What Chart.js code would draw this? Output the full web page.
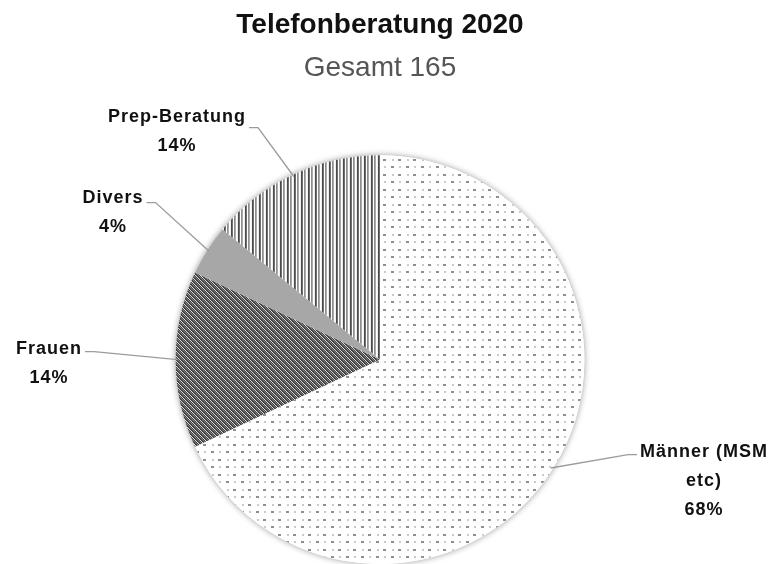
<!DOCTYPE html>
<html lang="de">
<head>
<meta charset="utf-8">
<title>Telefonberatung 2020</title>
<script src="https://cdn.jsdelivr.net/npm/chart.js@4.4.1/dist/chart.umd.min.js"></script>
<style>
  html, body { margin: 0; padding: 0; background: #fff; }
</style>
</head>
<body>
<canvas id="pieChart" width="782" height="564"></canvas>
<script>
// ---- data ----
const groups = [["Männer (MSM", "etc)"], "Frauen", "Divers", "Prep-Beratung"];
const shares = [68, 14, 4, 14];
const totalCalls = 165;

// label placement, relative to the pie centre
const labelSpots = [
  { dx: 324, dy: 92, side: "left", drop: 3 },
  { dx: -331, dy: -11, side: "right", drop: 3 },
  { dx: -267, dy: -162, side: "right", drop: 5 },
  { dx: -203, dy: -243, side: "right", drop: 11 }
];

// -------------------------------
// fill patterns for the slices
// -------------------------------
function makeTile(w, h, paint) {
  const c = document.createElement("canvas");
  c.width = w;
  c.height = h;
  const g = c.getContext("2d");
  paint(g, w, h);
  return g.createPattern(c, "repeat");
}

const dotFill = makeTile(15, 15, (g, w, h) => {
  g.fillStyle = "#fff";
  g.fillRect(0, 0, w, h);
  g.fillStyle = "#8e8e8e";
  g.fillRect(1, 1, 3, 2);
  g.fillRect(8, 9, 3, 2);
  g.fillStyle = "#cacaca";
  g.fillRect(9, 1, 2, 2);
  g.fillRect(2, 9, 2, 2);
});

const hatchFill = makeTile(5, 5, (g, w, h) => {
  g.fillStyle = "#444";
  g.fillRect(0, 0, w, h);
  for (let i = 0; i < 5; i++) {
    g.fillStyle = "#dcdcdc";
    g.fillRect(i, i, 1, 1);
    g.fillStyle = "#808080";
    g.fillRect(i, (i + 2) % 5, 1, 1);
  }
});

const stripeFill = makeTile(7, 1, (g) => {
  const cols = ["#4a4a4a", "#707070", "#ffffff", "#8e8e8e", "#aaaaaa", "#ffffff", "#eeeeee"];
  cols.forEach((c, x) => {
    g.fillStyle = c;
    g.fillRect(x, 0, 1, 1);
  });
});

const sliceFills = [dotFill, hatchFill, "#a7a7a7", stripeFill];

// -------------------------------
// shadow under the pie + callout labels
// -------------------------------
const pieDecor = {
  id: "pieDecor",
  beforeDatasetsDraw(chart) {
    const arc = chart.getDatasetMeta(0).data[0];
    const ctx = chart.ctx;
    ctx.save();
    ctx.shadowColor = "rgba(0,0,0,0.4)";
    ctx.shadowBlur = 6;
    ctx.beginPath();
    ctx.arc(arc.x, arc.y, arc.outerRadius, 0, Math.PI * 2);
    ctx.fillStyle = "#fff";
    ctx.fill();
    ctx.restore();
  },
  afterDatasetsDraw(chart) {
    const ctx = chart.ctx;
    const meta = chart.getDatasetMeta(0);

    meta.data.forEach((arc, i) => {
      const spot = labelSpots[i];
      const lines = [].concat(chart.data.labels[i], shares[i] + "%");
      const mid = (arc.startAngle + arc.endAngle) / 2;
      const ex = arc.x + Math.cos(mid) * (arc.outerRadius - 2);
      const ey = arc.y + Math.sin(mid) * (arc.outerRadius - 2);
      const tx = arc.x + spot.dx;
      const ty = arc.y + spot.dy;

      ctx.save();
      ctx.font = "bold 18px 'Liberation Sans', Arial, sans-serif";
      ctx.letterSpacing = "1px";
      const w = ctx.measureText(lines[0]).width;

      // leader line
      const ly = ty + spot.drop;
      const lx = spot.side === "right" ? tx + w / 2 + 3 : tx - w / 2 - 3;
      const kx = spot.side === "right" ? lx + 9 : lx - 9;
      ctx.strokeStyle = "#9c9c9c";
      ctx.lineWidth = 1.4;
      ctx.beginPath();
      ctx.moveTo(lx, ly);
      ctx.lineTo(kx, ly);
      ctx.lineTo(ex, ey);
      ctx.stroke();

      // label text
      ctx.filter = "blur(0.4px)";
      ctx.fillStyle = "#111";
      ctx.textAlign = "center";
      ctx.textBaseline = "middle";
      lines.forEach((t, k) => ctx.fillText(t, tx, ty + k * 29));
      ctx.restore();
    });
  }
};

// -------------------------------
// chart
// -------------------------------
new Chart(document.getElementById("pieChart"), {
  type: "pie",
  data: {
    labels: groups,
    datasets: [{
      data: shares,
      backgroundColor: sliceFills,
      borderWidth: 0,
      hoverOffset: 0
    }]
  },
  options: {
    responsive: false,
    animation: false,
    layout: { padding: { left: 0, right: 22, top: 0, bottom: 0 } },
    plugins: {
      legend: { display: false },
      tooltip: { enabled: false },
      title: {
        display: true,
        text: "Telefonberatung 2020",
        color: "#111",
        font: { family: "'Liberation Sans', Arial, sans-serif", size: 28, weight: "bold", lineHeight: 1.2 },
        padding: { top: 8, bottom: 10 }
      },
      subtitle: {
        display: true,
        text: "Gesamt " + totalCalls,
        color: "#555",
        font: { family: "'Liberation Sans', Arial, sans-serif", size: 28, weight: "normal", lineHeight: 1.2 },
        padding: { top: 0, bottom: 70 }
      }
    }
  },
  plugins: [pieDecor]
});
</script>
</body>
</html>
